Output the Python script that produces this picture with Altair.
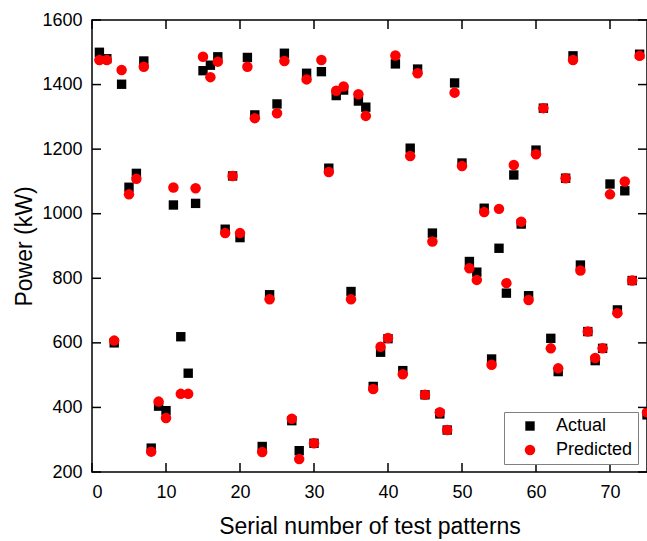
import altair as alt
import pandas as pd

serial = list(range(1, 76))
actual = [1500, 1480, 600, 1401, 1082, 1125, 1473, 274, 404, 390,
          1027, 619, 506, 1032, 1443, 1460, 1486, 952, 1117, 926,
          1484, 1306, 279, 749, 1340, 1497, 359, 266, 1435, 289,
          1440, 1141, 1366, 1383, 759, 1349, 1330, 465, 571, 613,
          1464, 514, 1203, 1448, 439, 940, 380, 330, 1405, 1157,
          852, 819, 1017, 550, 893, 754, 1120, 968, 746, 1197,
          1327, 614, 511, 1110, 1489, 841, 635, 545, 583, 1092,
          702, 1071, 793, 1494, 377]
predicted = [1476, 1476, 607, 1445, 1060, 1108, 1455, 263, 418, 367,
             1081, 442, 442, 1079, 1486, 1423, 1471, 940, 1117, 940,
             1455, 1296, 262, 735, 1311, 1473, 365, 240, 1416, 289,
             1476, 1129, 1381, 1394, 735, 1370, 1303, 457, 588, 615,
             1490, 503, 1179, 1435, 439, 914, 385, 330, 1375, 1148,
             831, 795, 1005, 532, 1015, 785, 1151, 975, 733, 1184,
             1327, 583, 521, 1110, 1476, 824, 635, 553, 583, 1060,
             692, 1100, 793, 1489, 385]
series_names = ["Actual", "Predicted"]
x_ticks = [0, 10, 20, 30, 40, 50, 60, 70]
y_ticks = [200, 400, 600, 800, 1000, 1200, 1400, 1600]

rows = []
for name, vals in zip(series_names, [actual, predicted]):
    for s, v in zip(serial, vals):
        rows.append({"serial": s, "power": v, "series": name})
df = pd.DataFrame(rows)
xt = pd.DataFrame({"t": x_ticks})
yt = pd.DataFrame({"t": y_ticks})

FONT = "Liberation Sans"
W, H = 555, 452
TICK = 9
xscale = alt.Scale(domain=[0, 75], nice=False, zero=False)
yscale = alt.Scale(domain=[200, 1600], nice=False, zero=False)

legend = alt.Legend(title=" ", titleOrient="left", titleFontSize=1, titlePadding=12,
                    orient="none", legendX=412, legendY=392,
                    labelFontSize=18, labelFont=FONT, labelColor="black",
                    strokeColor="#808080", fillColor="white", padding=5,
                    symbolOffset=0, labelOffset=17, rowPadding=6,
                    symbolStrokeWidth=0)

points = alt.Chart(df).mark_point(filled=True, opacity=1).encode(
    x=alt.X("serial:Q", scale=xscale, title="Serial number of test patterns",
            axis=alt.Axis(values=x_ticks, ticks=False, tickSize=0, domain=False, grid=False,
                          format="d",
                          labelFontSize=18, labelFont=FONT, labelColor="black", labelPadding=11,
                          titleFontSize=23, titleFont=FONT, titleFontWeight="normal",
                          titleColor="black", titlePadding=14)),
    y=alt.Y("power:Q", scale=yscale, title="Power (kW)",
            axis=alt.Axis(values=y_ticks, ticks=False, tickSize=0, domain=False, grid=False,
                          format="d",
                          labelFontSize=18, labelFont=FONT, labelColor="black", labelPadding=10,
                          titleFontSize=23, titleFont=FONT, titleFontWeight="normal",
                          titleColor="black", titlePadding=5)),
    shape=alt.Shape("series:N", scale=alt.Scale(domain=series_names, range=["square", "circle"]),
                    legend=legend),
    color=alt.Color("series:N", scale=alt.Scale(domain=series_names, range=["black", "#ff0000"]),
                    legend=legend),
    size=alt.Size("series:N", scale=alt.Scale(domain=series_names, range=[88, 110]),
                  legend=legend),
)

tick_style = dict(color="black", strokeWidth=1.5)
bottom_ticks = alt.Chart(xt).mark_rule(**tick_style).encode(
    x=alt.X("t:Q", scale=xscale), y=alt.value(H), y2=alt.value(H - TICK))
top_ticks = alt.Chart(xt).mark_rule(**tick_style).encode(
    x=alt.X("t:Q", scale=xscale), y=alt.value(0), y2=alt.value(TICK))
left_ticks = alt.Chart(yt).mark_rule(**tick_style).encode(
    y=alt.Y("t:Q", scale=yscale), x=alt.value(0), x2=alt.value(TICK))
right_ticks = alt.Chart(yt).mark_rule(**tick_style).encode(
    y=alt.Y("t:Q", scale=yscale), x=alt.value(W), x2=alt.value(W - TICK))

chart = alt.layer(points, bottom_ticks, top_ticks, left_ticks, right_ticks).properties(
    width=W, height=H,
    autosize=alt.AutoSizeParams(type="none"),
    padding={"left": 92, "top": 20, "right": 0, "bottom": 69},
    background="white",
).configure_view(
    stroke="black", strokeWidth=1.5
)

chart.save("out.html", embed_options={"renderer": "svg", "actions": False})
